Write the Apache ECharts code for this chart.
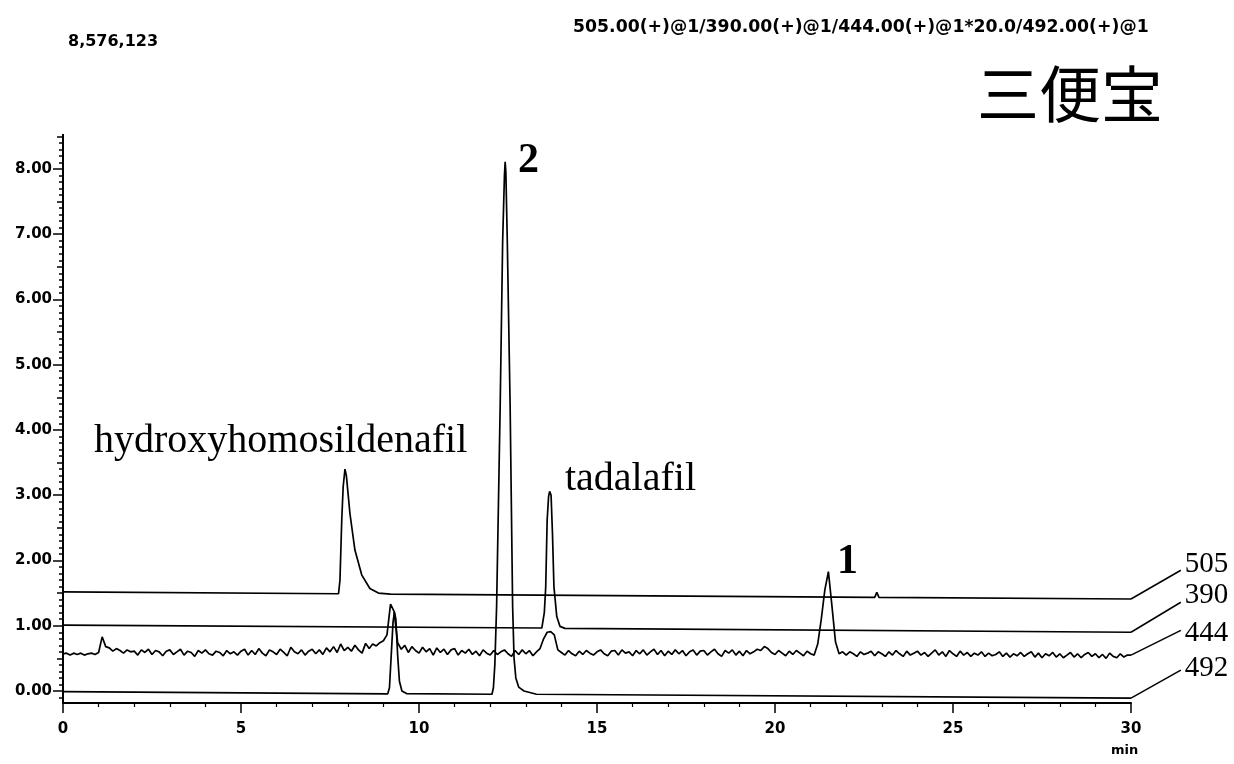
<!DOCTYPE html>
<html>
<head>
<meta charset="utf-8">
<script src="https://cdn.jsdelivr.net/npm/echarts@6/dist/echarts.min.js"></script>
<style>html,body{margin:0;padding:0;background:#fff;}#c{width:1234px;height:764px;}</style>
</head>
<body>
<div id="c"></div>
<script>
// ---- data (time in min, signal x10^6 shifted per trace) ----
const traceNames = ['505', '390', '444', '492'];
const xTickLabels = [0, 5, 10, 15, 20, 25, 30];
const yTickLabels = [0, 1, 2, 3, 4, 5, 6, 7, 8];

const trace505 = [[0,1.52],[7.74,1.49],[7.78,1.70],[7.83,2.62],[7.87,3.13],[7.92,3.40],[7.96,3.30],[8.06,2.72],[8.20,2.16],[8.39,1.78],[8.62,1.57],[8.86,1.50],[9.2,1.485],[22.80,1.435],[22.86,1.51],[22.92,1.435],[30,1.41]];
const trace390 = [[0,1.01],[13.45,0.965],[13.52,1.20],[13.56,1.60],[13.60,2.62],[13.64,2.98],[13.67,3.06],[13.71,3.00],[13.75,2.40],[13.79,1.60],[13.87,1.14],[13.96,0.99],[14.1,0.96],[30,0.90]];
const trace492 = [[0,-0.01],[9.12,-0.045],[9.17,0.05],[9.22,0.55],[9.27,1.05],[9.31,1.21],[9.35,1.10],[9.40,0.55],[9.45,0.15],[9.52,0.0],[9.65,-0.04],[12.05,-0.05],[12.09,0.05],[12.13,0.4],[12.18,1.3],[12.28,4.36],[12.35,6.9],[12.40,7.9],[12.42,8.11],[12.44,7.95],[12.48,6.9],[12.56,4.36],[12.63,1.3],[12.67,0.5],[12.72,0.2],[12.80,0.06],[12.95,0.0],[13.3,-0.05],[30,-0.11]];
// trace 444 sampled every 0.1 min from 0.0 to 30.0
const step444 = 0.1;
const signal444 = [
0.57,0.58,0.55,0.58,0.56,0.58,0.55,0.57,0.58,0.56,
0.59,0.83,0.68,0.66,0.61,0.65,0.62,0.58,0.63,0.60,
0.61,0.55,0.63,0.59,0.64,0.56,0.62,0.60,0.54,0.61,
0.63,0.56,0.60,0.64,0.55,0.61,0.59,0.53,0.62,0.58,
0.63,0.57,0.55,0.61,0.59,0.54,0.62,0.57,0.60,0.55,
0.61,0.64,0.55,0.62,0.56,0.65,0.58,0.54,0.63,0.60,
0.56,0.64,0.59,0.54,0.67,0.60,0.57,0.63,0.55,0.61,
0.64,0.57,0.63,0.56,0.66,0.60,0.68,0.59,0.72,0.62,
0.67,0.61,0.70,0.63,0.58,0.73,0.65,0.72,0.69,0.74,
0.77,0.86,1.33,1.22,0.74,0.64,0.70,0.59,0.68,0.62,
0.58,0.67,0.60,0.65,0.55,0.66,0.59,0.64,0.56,0.63,
0.65,0.55,0.62,0.58,0.64,0.56,0.61,0.54,0.63,0.58,
0.55,0.62,0.56,0.60,0.63,0.57,0.53,0.62,0.56,0.63,
0.57,0.62,0.54,0.60,0.65,0.80,0.90,0.91,0.86,0.63,
0.59,0.55,0.62,0.57,0.54,0.61,0.56,0.62,0.58,0.55,
0.60,0.63,0.57,0.54,0.61,0.62,0.55,0.63,0.58,0.60,
0.54,0.62,0.57,0.63,0.55,0.60,0.64,0.56,0.62,0.54,
0.61,0.56,0.63,0.57,0.62,0.54,0.60,0.63,0.55,0.61,
0.62,0.55,0.60,0.64,0.57,0.53,0.62,0.58,0.63,0.55,
0.61,0.54,0.62,0.57,0.60,0.64,0.62,0.68,0.65,0.59,
0.56,0.62,0.58,0.54,0.61,0.56,0.62,0.58,0.54,0.61,
0.57,0.55,0.72,1.10,1.55,1.83,1.30,0.75,0.57,0.60,
0.55,0.60,0.57,0.53,0.60,0.56,0.58,0.61,0.54,0.60,
0.57,0.53,0.60,0.55,0.62,0.57,0.53,0.61,0.55,0.58,
0.61,0.55,0.59,0.53,0.58,0.63,0.55,0.60,0.53,0.62,
0.57,0.53,0.61,0.55,0.59,0.53,0.58,0.55,0.60,0.53,
0.58,0.54,0.56,0.60,0.53,0.58,0.52,0.57,0.54,0.59,
0.53,0.57,0.60,0.52,0.58,0.51,0.57,0.54,0.59,0.52,
0.57,0.51,0.55,0.59,0.52,0.57,0.51,0.56,0.59,0.53,
0.57,0.51,0.56,0.50,0.58,0.53,0.51,0.57,0.52,0.55,
0.55];
// end points of the slanted leader lines to the trace labels
const leaderEnds = { '505': [31.4, 1.85], '390': [31.4, 1.36], '444': [31.4, 0.93], '492': [31.4, 0.32] };

// ---- build ----
const trace444 = signal444.map((v, i) => [+(i * step444).toFixed(1), v]);
const traces = { '505': trace505, '390': trace390, '444': trace444, '492': trace492 };
const labelDy = { '505': -6, '390': -7, '444': 3, '492': -2 };

const minorTicks = [], halfTicks = [];
for (let i = -1; i <= 85; i++) {
  const v = +(i / 10).toFixed(1);
  if (i % 10 === 0) continue;
  if (i % 5 === 0) halfTicks.push(v); else minorTicks.push(v);
}

const chart = echarts.init(document.getElementById('c'), null, { renderer: 'canvas' });
const axisColor = '#000';
const labelFont = { fontFamily: 'DejaVu Sans', fontWeight: 'bold', fontSize: 15, color: '#000' };
const yMin = -0.184, yMax = 8.52;

function yAxisDef(ticks, len, showLabel) {
  return {
    type: 'value', min: yMin, max: yMax, position: 'left', offset: 0,
    axisLine: { show: true, onZero: false, lineStyle: { color: axisColor, width: 2 } },
    axisTick: { show: true, customValues: ticks, length: len, inside: false, lineStyle: { color: axisColor, width: 1.5 } },
    axisLabel: showLabel ? Object.assign({ show: true, customValues: ticks, margin: 11, formatter: v => v.toFixed(2) }, labelFont) : { show: false },
    splitLine: { show: false }
  };
}

const series = traceNames.map(n => ({
  name: n, type: 'line', data: traces[n],
  showSymbol: false, symbol: 'none', animation: false,
  lineStyle: { color: '#000', width: 1.7 },
  emphasis: { disabled: true }
}));

chart.setOption({
  backgroundColor: '#fff',
  animation: false,
  grid: { left: 63, right: 103, top: 135, bottom: 61, containLabel: false },
  xAxis: {
    type: 'value', min: 0, max: 30, interval: 5,
    axisLine: { onZero: false, lineStyle: { color: axisColor, width: 2 } },
    axisTick: { length: 10, lineStyle: { color: axisColor, width: 1.5 } },
    minorTick: { show: true, splitNumber: 5, length: 4, lineStyle: { color: axisColor, width: 1.2 } },
    axisLabel: Object.assign({ margin: 19, customValues: xTickLabels }, labelFont),
    splitLine: { show: false }, minorSplitLine: { show: false }
  },
  yAxis: [yAxisDef(yTickLabels, 10, true), yAxisDef(halfTicks, 6, false), yAxisDef(minorTicks, 4, false)],
  series: series
});

// leader lines + trace labels, positioned through the axes
const graphics = [
  { type: 'text', left: 68, top: 34, style: { text: '8,576,123', font: 'bold 16px "DejaVu Sans"', fill: '#000' } },
  { type: 'text', left: 573, top: 19, style: { text: '505.00(+)@1/390.00(+)@1/444.00(+)@1*20.0/492.00(+)@1', font: 'bold 17.3px "DejaVu Sans"', fill: '#000' } },
  { type: 'text', left: 977, top: 63, style: { text: '三便宝', font: '62px "Noto Sans CJK JP"', fill: '#000' } },
  { type: 'text', left: 94, top: 421, style: { text: 'hydroxyhomosildenafil', font: '40px "Liberation Serif"', fill: '#000' } },
  { type: 'text', left: 565, top: 459, style: { text: 'tadalafil', font: '40px "Liberation Serif"', fill: '#000' } },
  { type: 'text', left: 518, top: 140, style: { text: '2', font: 'bold 42px "Liberation Serif"', fill: '#000' } },
  { type: 'text', left: 837, top: 541, style: { text: '1', font: 'bold 42px "Liberation Serif"', fill: '#000' } },
  { type: 'text', left: 1111, top: 744, style: { text: 'min', font: 'bold 13px "DejaVu Sans"', fill: '#000' } }
];
traceNames.forEach(n => {
  const d = traces[n];
  const p0 = chart.convertToPixel({ xAxisIndex: 0, yAxisIndex: 0 }, d[d.length - 1]);
  const p1 = chart.convertToPixel({ xAxisIndex: 0, yAxisIndex: 0 }, leaderEnds[n]);
  graphics.push({ type: 'line', shape: { x1: p0[0], y1: p0[1], x2: p1[0], y2: p1[1] }, style: { stroke: '#000', lineWidth: 1.5 } });
  graphics.push({ type: 'text', x: p1[0] + 4, y: p1[1] + labelDy[n], style: { text: n, font: '29px "Liberation Serif"', fill: '#000', verticalAlign: 'middle', align: 'left' } });
});
chart.setOption({ graphic: graphics });
</script>
</body>
</html>
